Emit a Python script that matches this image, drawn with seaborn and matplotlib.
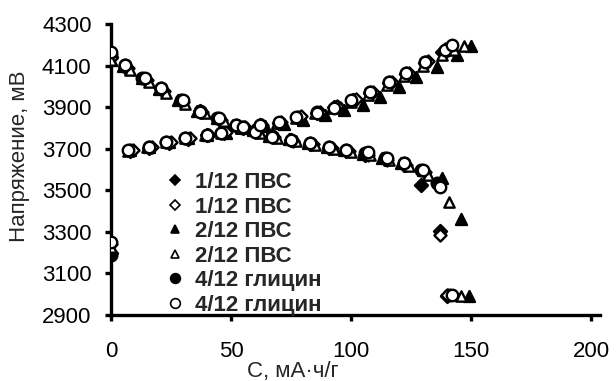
import matplotlib
matplotlib.use("Agg")
import matplotlib.pyplot as plt
import seaborn as sns
import pandas as pd
from matplotlib.lines import Line2D

# ---------------- data ----------------
labels = ["1/12 ПВС", "1/12 ПВС", "2/12 ПВС", "2/12 ПВС", "4/12 глицин", "4/12 глицин"]

# 1/12 ПВС, filled diamonds
s1_dis_c = [0, 6, 14, 21, 29, 37, 45, 52, 60, 67, 75, 83, 91, 98, 106, 114, 122, 129, 137, 140]
s1_dis_v = [4140, 4095, 4035, 3985, 3930, 3880, 3845, 3810, 3785, 3760, 3740, 3725, 3705, 3690,
            3672, 3650, 3622, 3525, 3305, 2990]
s1_chg_c = [0, 8, 16, 24, 32, 40, 47, 55, 62, 70, 78, 86, 93, 101, 108, 116, 123, 131, 138]
s1_chg_v = [3200, 3690, 3705, 3728, 3748, 3765, 3778, 3800, 3812, 3826, 3850, 3874, 3900, 3932,
            3968, 4015, 4058, 4110, 4165]

# 1/12 ПВС, open diamonds
s2_dis_c = [0, 7, 15, 22, 30, 38, 46, 53, 61, 68, 76, 84, 92, 99, 107, 115, 123, 131, 137, 140]
s2_dis_v = [4135, 4090, 4030, 3980, 3925, 3875, 3840, 3805, 3780, 3755, 3738, 3722, 3702, 3688,
            3670, 3648, 3620, 3590, 3285, 2995]
s2_chg_c = [0, 9, 17, 25, 33, 41, 48, 56, 63, 71, 79, 87, 94, 102, 109, 117, 124, 132, 139]
s2_chg_v = [3240, 3695, 3710, 3732, 3752, 3768, 3782, 3803, 3815, 3830, 3855, 3878, 3905, 3938,
            3975, 4022, 4065, 4120, 4180]

# 2/12 ПВС, filled triangles
s3_dis_c = [0, 5, 13, 20, 28, 36, 44, 51, 59, 66, 74, 82, 90, 97, 105, 113, 121, 130, 138, 146, 149]
s3_dis_v = [4125, 4100, 4038, 3988, 3935, 3882, 3850, 3815, 3788, 3762, 3745, 3728, 3708, 3694,
            3676, 3655, 3630, 3600, 3560, 3360, 2990]
s3_chg_c = [0, 8, 16, 24, 32, 40, 48, 56, 64, 72, 80, 89, 97, 105, 112, 120, 127, 136, 144, 150]
s3_chg_v = [3215, 3692, 3708, 3730, 3750, 3766, 3778, 3798, 3808, 3820, 3840, 3862, 3885, 3910,
            3949, 3997, 4045, 4093, 4151, 4195]

# 2/12 ПВС, open triangles
s4_dis_c = [0, 8, 16, 23, 31, 39, 47, 54, 62, 69, 77, 85, 93, 100, 108, 116, 124, 132, 141, 146]
s4_dis_v = [4127, 4080, 4020, 3970, 3915, 3870, 3835, 3800, 3778, 3752, 3735, 3718, 3700, 3686,
            3668, 3645, 3618, 3574, 3444, 2990]
s4_chg_c = [0, 7, 15, 23, 31, 39, 46, 54, 61, 69, 77, 85, 92, 100, 107, 115, 122, 130, 138, 143, 147]
s4_chg_v = [3225, 3690, 3706, 3730, 3750, 3766, 3776, 3798, 3808, 3822, 3846, 3870, 3895, 3925,
            3960, 4005, 4050, 4100, 4150, 4175, 4195]

# 4/12 глицин, filled circles
s5_dis_c = [0, 6, 13, 21, 29, 37, 44, 52, 60, 67, 75, 83, 91, 98, 106, 114, 122, 129, 136, 141]
s5_dis_v = [4150, 4103, 4040, 3992, 3935, 3882, 3850, 3814, 3786, 3760, 3744, 3728, 3710, 3694,
            3680, 3656, 3632, 3600, 3535, 2995]
s5_chg_c = [0, 8, 16, 23, 31, 40, 46, 55, 62, 70, 78, 86, 94, 101, 108, 116, 123, 131, 139]
s5_chg_v = [3190, 3694, 3709, 3733, 3752, 3766, 3776, 3805, 3814, 3826, 3853, 3877, 3901, 3935,
            3973, 4021, 4064, 4117, 4172]

# 4/12 глицин, open circles
s6_dis_c = [0, 6, 14, 21, 30, 37, 45, 52, 60, 67, 75, 83, 91, 98, 107, 115, 122, 130, 137, 142]
s6_dis_v = [4165, 4103, 4040, 3990, 3935, 3877, 3848, 3814, 3780, 3757, 3742, 3728, 3709, 3694,
            3684, 3656, 3632, 3598, 3517, 2997]
s6_chg_c = [0, 7, 16, 23, 31, 40, 46, 55, 62, 70, 77, 86, 93, 100, 108, 116, 123, 131, 139, 142]
s6_chg_v = [3250, 3694, 3709, 3733, 3752, 3766, 3776, 3805, 3814, 3829, 3853, 3872, 3898, 3935,
            3973, 4021, 4064, 4117, 4175, 4200]

x_ticks = [0, 50, 100, 150, 200]
y_ticks = [2900, 3100, 3300, 3500, 3700, 3900, 4100, 4300]

# ---------------- styling ----------------
sns.set_style("white")
plt.rcParams["font.family"] = ["Liberation Sans", "DejaVu Sans"]

fig = plt.figure(figsize=(6.16, 3.81), dpi=100)
ax = fig.add_axes([111 / 616, 66 / 381, (600 - 111) / 616, (315 - 24) / 381])

series = [
    (s1_dis_c + s1_chg_c, s1_dis_v + s1_chg_v, "D", "black", 44),
    (s3_dis_c + s3_chg_c, s3_dis_v + s3_chg_v, "^", "black", 62),
    (s5_dis_c + s5_chg_c, s5_dis_v + s5_chg_v, "o", "black", 70),
    (s2_dis_c + s2_chg_c, s2_dis_v + s2_chg_v, "D", "white", 38),
    (s4_dis_c + s4_chg_c, s4_dis_v + s4_chg_v, "^", "white", 55),
    (s6_dis_c + s6_chg_c, s6_dis_v + s6_chg_v, "o", "white", 68),
]
for i, (cx, vy, mk, fc, sz) in enumerate(series):
    df = pd.DataFrame({"C": cx, "V": vy})
    sns.scatterplot(data=df, x="C", y="V", marker=mk, color=fc, edgecolor="black",
                    linewidth=1.7, s=sz, ax=ax, zorder=3 + i, legend=False)

ax.set_xlim(0, (600 - 111) / 2.4)
ax.set_ylim(2900, 4300)
ax.set_xticks(x_ticks)
ax.set_yticks(y_ticks)
ax.set_xticklabels([str(t) for t in x_ticks])
ax.set_yticklabels([str(t) for t in y_ticks])

for side in ["top", "right"]:
    ax.spines[side].set_visible(False)
for side in ["left", "bottom"]:
    ax.spines[side].set_linewidth(2.4)
    ax.spines[side].set_color("black")

ax.tick_params(axis="y", direction="out", length=4, width=2.4, pad=10, labelsize=16,
               colors="black", left=True)
ax.tick_params(axis="x", direction="out", length=4, width=2.4, pad=15, labelsize=16,
               colors="black", bottom=True)

ax.set_ylabel("Напряжение, мВ", fontsize=16)
ax.yaxis.set_label_coords(-(111 - 20) / 489, (315 - 156) / 291)
ax.set_xlabel("С, мА·ч/г", fontsize=16)
ax.xaxis.set_label_coords((293 - 111) / 489, -(371 - 315) / 291)
ax.xaxis.label.set_va("center")
ax.yaxis.label.set_va("center")

handles = [
    Line2D([], [], linestyle="none", marker="D", markersize=5, markerfacecolor="black",
           markeredgecolor="black", markeredgewidth=1.2),
    Line2D([], [], linestyle="none", marker="D", markersize=5, markerfacecolor="white",
           markeredgecolor="black", markeredgewidth=1.2),
    Line2D([], [], linestyle="none", marker="^", markersize=6, markerfacecolor="black",
           markeredgecolor="black", markeredgewidth=1.2),
    Line2D([], [], linestyle="none", marker="^", markersize=6, markerfacecolor="white",
           markeredgecolor="black", markeredgewidth=1.2),
    Line2D([], [], linestyle="none", marker="o", markersize=7, markerfacecolor="black",
           markeredgecolor="black", markeredgewidth=1.2),
    Line2D([], [], linestyle="none", marker="o", markersize=7, markerfacecolor="white",
           markeredgecolor="black", markeredgewidth=1.2),
]
leg = ax.legend(handles, labels, loc="upper left", bbox_to_anchor=(166 / 616, 1 - 172 / 381),
                bbox_transform=fig.transFigure, frameon=False, borderpad=0, borderaxespad=0,
                handlelength=0.8, handletextpad=0.5, labelspacing=0.16,
                prop={"size": 16, "weight": "bold"})
leg.set_zorder(20)

fig.savefig("out.png", dpi=100)
